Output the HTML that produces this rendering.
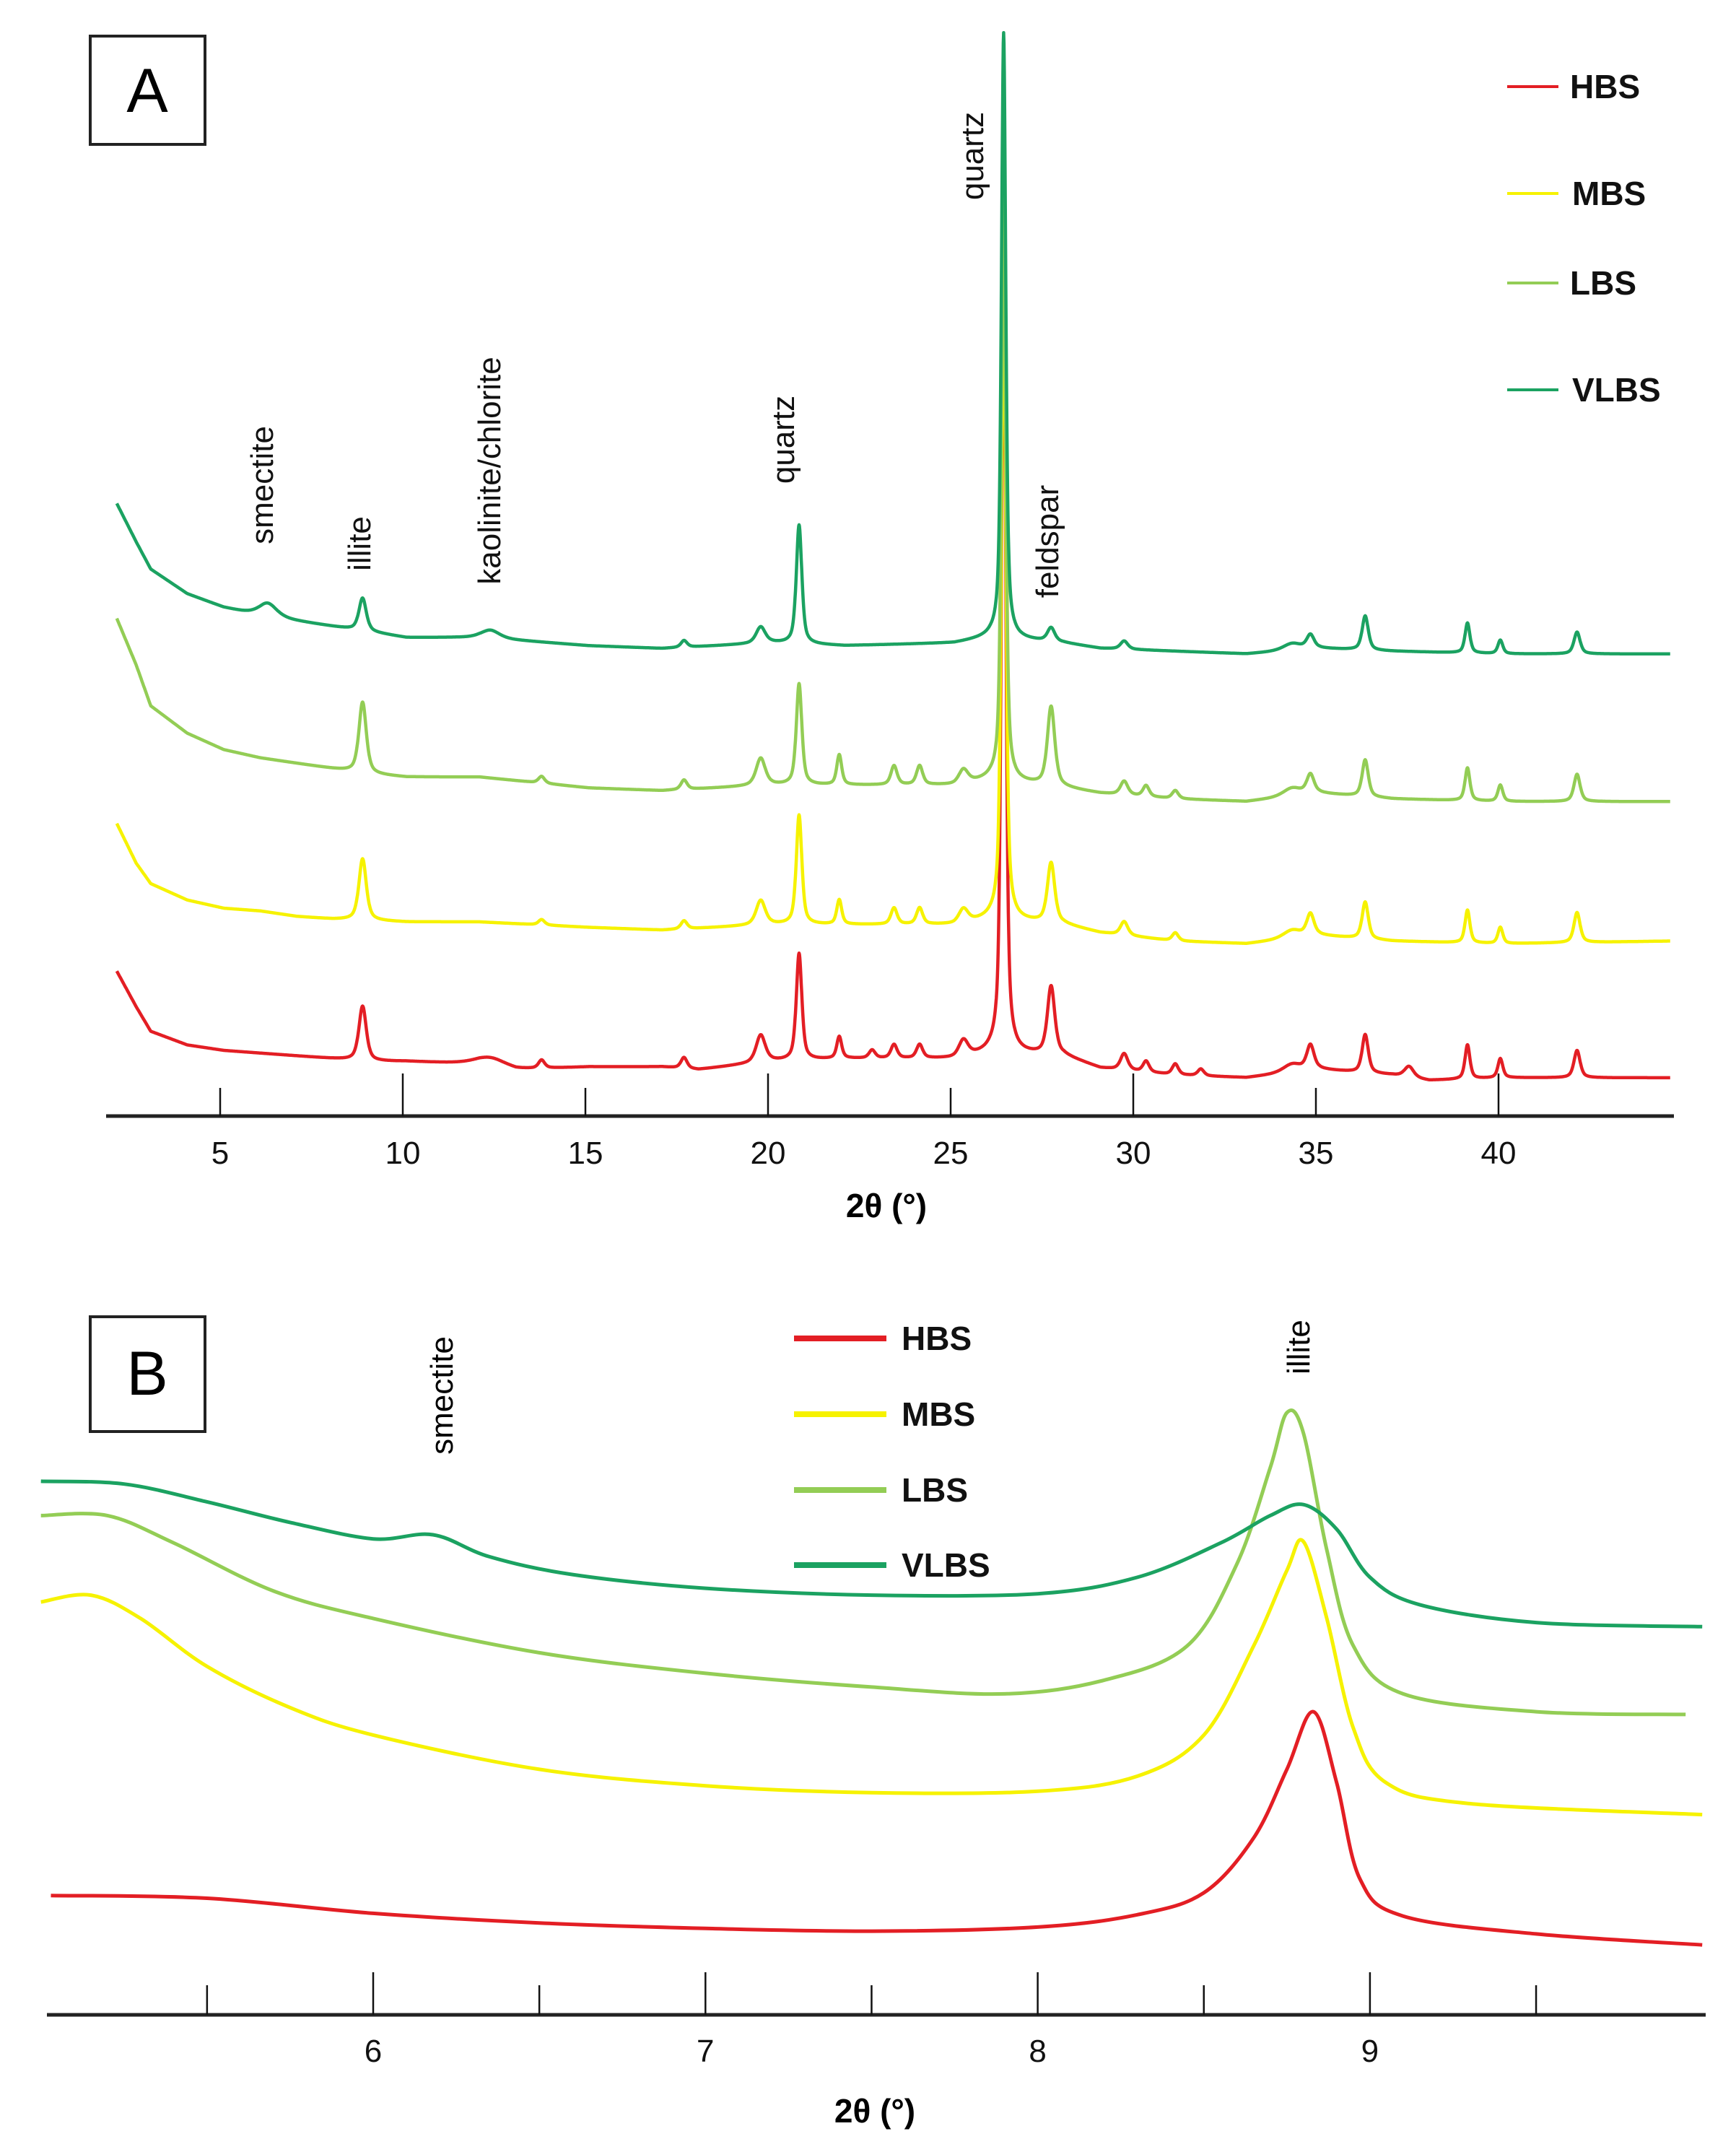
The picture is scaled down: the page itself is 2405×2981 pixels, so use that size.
<!DOCTYPE html>
<html><head><meta charset="utf-8">
<style>
html,body{margin:0;padding:0;background:#fff;}
svg{display:block;font-family:"Liberation Sans",Arial,sans-serif;}
</style></head>
<body>
<svg id="fig" width="2405" height="2981" viewBox="0 0 2405 2981" xmlns="http://www.w3.org/2000/svg">
<g id="panelA"></g>
<g id="panelB"></g>
</svg>
<script>
// ---------- Panel A data ----------
const seriesNames = ["HBS","MBS","LBS","VLBS"];
const seriesColors = ["#e31e24","#f6f200","#93cd55","#1ba261"];
const ticksA = [5,10,15,20,25,30,35,40];
// background points [deg, counts]
const bgHBS = [[2.17,106],[2.7,80],[3.1,62],[4.1,52],[5.1,48],[6.1,46],[7.1,44],[8.1,42],[9.1,40],[10.1,40],[12.1,38],[13.1,34],[15.1,36],[17.1,36],[18.1,34],[20.1,40],[22.1,42],[25.1,42],[26.1,46],[28.1,44],[29.1,35],[31.1,30],[33.1,28],[35.1,34],[37.1,30],[38.1,26],[40.1,28],[42.1,28],[44.7,28]];
const bgMBS = [[2.17,214],[2.7,185],[3.1,170],[4.1,158],[5.1,152],[6.1,150],[7.1,146],[8.1,144],[9.1,143],[10.1,142],[12.1,142],[15.1,138],[17.1,136],[20.1,140],[22.1,140],[25.1,140],[26.1,144],[28.1,140],[29.1,134],[31.1,128],[33.1,126],[35.1,132],[37.1,128],[40.1,126],[44.7,128]];
const bgLBS = [[2.17,364],[2.7,330],[3.1,300],[4.1,280],[5.1,268],[6.1,262],[7.1,258],[8.1,254],[9.1,250],[10.1,248],[12.1,248],[15.1,240],[17.1,238],[20.1,242],[22.1,242],[25.1,242],[26.1,246],[28.1,240],[29.1,236],[31.1,232],[33.1,230],[35.1,236],[37.1,232],[40.1,230],[44.7,230]];
const bgVLBS = [[2.17,448],[2.7,420],[3.1,400],[4.1,382],[5.1,372],[6.1,366],[7.1,362],[8.1,358],[9.1,354],[10.1,350],[12.1,350],[15.1,344],[17.1,342],[20.1,346],[22.1,344],[25.1,346],[26.1,350],[28.1,346],[29.1,342],[31.1,340],[33.1,338],[35.1,342],[37.1,340],[40.1,338],[44.7,338]];
// peaks [position deg, height counts, half-width deg]
const pkHBS = [[8.9,40,0.12],[12.4,6,0.5],[13.8,6,0.1],[17.7,8,0.1],[19.8,20,0.15],[20.85,78,0.09],[21.95,16,0.08],[22.85,6,0.1],[23.45,10,0.1],[24.15,10,0.1],[25.35,12,0.15],[26.45,600,0.07],[27.75,50,0.12],[29.75,12,0.12],[30.35,8,0.1],[31.15,8,0.1],[31.85,5,0.1],[34.35,6,0.3],[34.85,18,0.12],[36.35,28,0.1],[37.55,8,0.15],[39.15,25,0.08],[40.05,14,0.08],[42.15,20,0.1]];
const pkMBS = [[8.9,45,0.12],[13.8,4,0.1],[17.7,6,0.1],[19.8,18,0.15],[20.85,80,0.09],[21.95,18,0.08],[23.45,12,0.1],[24.15,12,0.1],[25.35,10,0.15],[26.45,500,0.07],[27.75,44,0.12],[29.75,10,0.12],[31.15,6,0.1],[34.35,6,0.3],[34.85,16,0.12],[36.35,27,0.1],[39.15,24,0.08],[40.05,12,0.08],[42.15,22,0.1]];
const pkLBS = [[8.9,52,0.12],[13.8,5,0.1],[17.7,7,0.1],[19.8,20,0.15],[20.85,74,0.09],[21.95,22,0.08],[23.45,14,0.1],[24.15,14,0.1],[25.35,10,0.15],[26.45,430,0.07],[27.75,58,0.12],[29.75,10,0.12],[30.35,8,0.1],[31.15,6,0.1],[34.35,6,0.3],[34.85,14,0.12],[36.35,27,0.1],[39.15,24,0.08],[40.05,12,0.08],[42.15,20,0.1]];
const pkVLBS = [[6.3,10,0.3],[8.9,24,0.12],[12.4,6,0.3],[17.7,5,0.1],[19.8,12,0.15],[20.85,87,0.09],[26.45,443,0.07],[27.75,10,0.12],[29.75,6,0.12],[34.35,5,0.3],[34.85,10,0.12],[36.35,25,0.1],[39.15,22,0.08],[40.05,10,0.08],[42.15,16,0.1]];

// ---------- Panel B data ----------
const ticksB = [6,7,8,9];
const ticksMinorB = [5.5,6.5,7.5,8.5,9.5];
const ptsHBS = [[5.03,87],[5.5,85],[6,74],[6.5,67],[7,63],[7.5,61],[8,64],[8.3,73],[8.5,89],[8.65,129],[8.75,179],[8.83,221],[8.9,169],[8.97,99],[9.1,72],[9.5,59],[10,51]];
const ptsMBS = [[5.0,301],[5.15,306],[5.3,289],[5.5,254],[5.75,224],[6,204],[6.5,179],[7,167],[7.5,162],[8,163],[8.3,174],[8.5,204],[8.65,269],[8.75,324],[8.8,345],[8.87,289],[8.95,209],[9.05,169],[9.3,154],[10,146]];
const ptsLBS = [[5.0,364],[5.2,364],[5.4,344],[5.7,309],[6,289],[6.5,264],[7,249],[7.5,239],[7.9,234],[8.2,244],[8.45,269],[8.6,329],[8.7,399],[8.75,439],[8.8,424],[8.87,339],[8.95,269],[9.1,234],[9.5,221],[9.95,219]];
const ptsVLBS = [[5.0,389],[5.25,387],[5.5,374],[5.75,359],[6.0,347],[6.18,350],[6.35,334],[6.6,321],[7,311],[7.5,306],[8,307],[8.3,319],[8.55,344],[8.7,364],[8.8,372],[8.9,354],[9.0,319],[9.15,299],[9.5,286],[10,283]];

const NS = "http://www.w3.org/2000/svg";
function mk(tag, attrs, parent){const e=document.createElementNS(NS,tag);for(const k in attrs)e.setAttribute(k,attrs[k]);parent.appendChild(e);return e;}

// axis functions
const xA = d => 305 + (d-5)*50.6;
const yA = c => 1546 - c*1.894;
const xB = d => 517 + (d-6)*460.3;
const yB = c => 2791 - c*1.9;

function interp(pts, x){
  if(x<=pts[0][0]) return pts[0][1];
  for(let i=1;i<pts.length;i++){ if(x<=pts[i][0]){const a=pts[i-1],b=pts[i];return a[1]+(b[1]-a[1])*(x-a[0])/(b[0]-a[0]);} }
  return pts[pts.length-1][1];
}
function profile(bg, pk, x){
  let v = interp(bg,x);
  for(const p of pk){const t=(x-p[0])/p[2]; v += p[1]*(0.6/(1+t*t) + 0.4*Math.exp(-0.693*t*t));}
  return v;
}

const A = document.getElementById('panelA');
const B = document.getElementById('panelB');

const bgs=[bgHBS,bgMBS,bgLBS,bgVLBS], pks=[pkHBS,pkMBS,pkLBS,pkVLBS];
for(let s=0;s<4;s++){
  const bg=bgs[s], x0=bg[0][0], x1=bg[bg.length-1][0];
  let d="";
  for(let x=x0;x<=x1+0.0001;x+=0.01){ d += (d?"L":"M")+xA(x).toFixed(1)+","+yA(profile(bg,pks[s],x)).toFixed(1); }
  const p = mk('path',{d:d,fill:'none',stroke:seriesColors[s],'stroke-width':4.5,'stroke-linejoin':'round'},A);
  
  
}
const axA = mk('line',{x1:147,y1:1546,x2:2319,y2:1546,stroke:'#222','stroke-width':5},A);


ticksA.forEach(t=>{
  const top = (t%10===0)?1487:1507;
  const tk = mk('line',{x1:xA(t),y1:top,x2:xA(t),y2:1546,stroke:'#111','stroke-width':2.5},A);
  
  
  const lb = mk('text',{x:xA(t),y:1612,'font-size':44,'text-anchor':'middle',fill:'#111'},A);
  lb.textContent = t;
  
  
});
const ptsB=[ptsHBS,ptsMBS,ptsLBS,ptsVLBS];
function smoothPath(pts, fx, fy){
  const P = pts.map(p=>[fx(p[0]),fy(p[1])]);
  let d = "M"+P[0][0].toFixed(1)+","+P[0][1].toFixed(1);
  for(let i=0;i<P.length-1;i++){
    const p0=P[Math.max(0,i-1)],p1=P[i],p2=P[i+1],p3=P[Math.min(P.length-1,i+2)];
    const c1=[p1[0]+(p2[0]-p0[0])/6,p1[1]+(p2[1]-p0[1])/6];
    const c2=[p2[0]-(p3[0]-p1[0])/6,p2[1]-(p3[1]-p1[1])/6];
    d += "C"+c1[0].toFixed(1)+","+c1[1].toFixed(1)+" "+c2[0].toFixed(1)+","+c2[1].toFixed(1)+" "+p2[0].toFixed(1)+","+p2[1].toFixed(1);
  }
  return d;
}
for(let s=0;s<4;s++){
  const p = mk('path',{d:smoothPath(ptsB[s],xB,yB),fill:'none',stroke:seriesColors[s],'stroke-width':5,'stroke-linejoin':'round'},B);
  
  
}
const axB = mk('line',{x1:65,y1:2791,x2:2363,y2:2791,stroke:'#222','stroke-width':5},B);


ticksB.forEach(t=>{
  const tk = mk('line',{x1:xB(t),y1:2732,x2:xB(t),y2:2791,stroke:'#111','stroke-width':2.5},B);
  
  
  const lb = mk('text',{x:xB(t),y:2856,'font-size':44,'text-anchor':'middle',fill:'#111'},B);
  lb.textContent = t;
  
  
});
ticksMinorB.forEach(t=>{
  const tk = mk('line',{x1:xB(t),y1:2750,x2:xB(t),y2:2791,stroke:'#111','stroke-width':2.5},B);
  
  
});
</script>
<svg style="position:absolute;left:0;top:0" width="2405" height="2981" viewBox="0 0 2405 2981" xmlns="http://www.w3.org/2000/svg" font-family="Liberation Sans, Arial, sans-serif">
  <rect x="125" y="50" width="159" height="150" fill="none" stroke="#222" stroke-width="4"/>
  <text x="204" y="155" font-size="86" text-anchor="middle">A</text>
  <g font-size="44" fill="#111" text-anchor="middle">
    <text transform="translate(378,672) rotate(-90)">smectite</text>
    <text transform="translate(513,753) rotate(-90)">illite</text>
    <text transform="translate(693,652) rotate(-90)">kaolinite/chlorite</text>
    <text transform="translate(1100,609) rotate(-90)">quartz</text>
    <text transform="translate(1362,216) rotate(-90)">quartz</text>
    <text transform="translate(1466,750) rotate(-90)">feldspar</text>
  </g>
  <g font-size="46" font-weight="bold" fill="#111">
    <line x1="2088" y1="120" x2="2159" y2="120" stroke="#e31e24" stroke-width="4"/>
    <text x="2175" y="136">HBS</text>
    <line x1="2088" y1="268" x2="2159" y2="268" stroke="#f6f200" stroke-width="4"/>
    <text x="2178" y="284">MBS</text>
    <line x1="2088" y1="392" x2="2159" y2="392" stroke="#93cd55" stroke-width="4"/>
    <text x="2175" y="408">LBS</text>
    <line x1="2088" y1="540" x2="2159" y2="540" stroke="#1ba261" stroke-width="4"/>
    <text x="2178" y="556">VLBS</text>
  </g>
  <text x="1228" y="1686" font-size="46" font-weight="bold" text-anchor="middle">2θ (°)</text>

  <rect x="125" y="1824" width="159" height="159" fill="none" stroke="#222" stroke-width="4"/>
  <text x="204" y="1932" font-size="86" text-anchor="middle">B</text>
  <text transform="translate(627,1933) rotate(-90)" font-size="44" text-anchor="middle">smectite</text>
  <text transform="translate(1814,1866) rotate(-90)" font-size="44" text-anchor="middle">illite</text>
  <g font-size="46" font-weight="bold" fill="#111">
    <line x1="1100" y1="1854" x2="1228" y2="1854" stroke="#e31e24" stroke-width="8"/>
    <text x="1249" y="1870">HBS</text>
    <line x1="1100" y1="1959" x2="1228" y2="1959" stroke="#f6f200" stroke-width="8"/>
    <text x="1249" y="1975">MBS</text>
    <line x1="1100" y1="2064" x2="1228" y2="2064" stroke="#93cd55" stroke-width="8"/>
    <text x="1249" y="2080">LBS</text>
    <line x1="1100" y1="2168" x2="1228" y2="2168" stroke="#1ba261" stroke-width="8"/>
    <text x="1249" y="2184">VLBS</text>
  </g>
  <text x="1212" y="2940" font-size="46" font-weight="bold" text-anchor="middle">2θ (°)</text>
</svg>
</body></html>
